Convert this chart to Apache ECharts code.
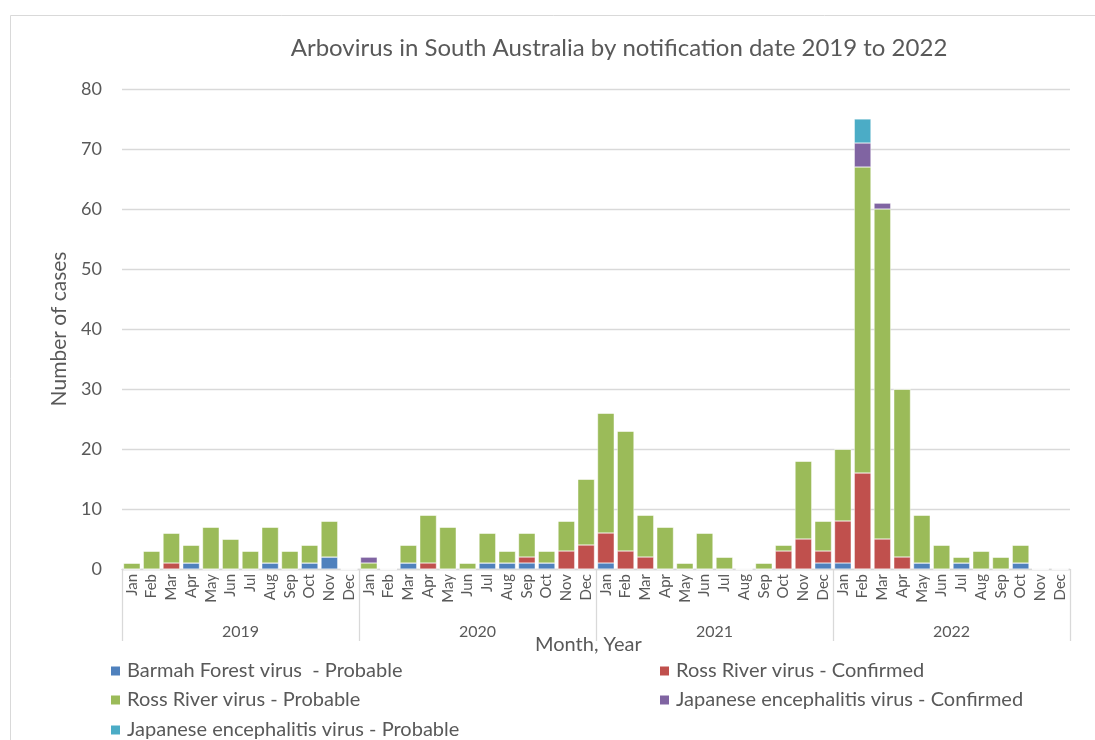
<!DOCTYPE html>
<html>
<head>
<meta charset="utf-8">
<script src="https://cdn.jsdelivr.net/npm/echarts@6/dist/echarts.min.js"></script>
<style>
  html, body { margin: 0; padding: 0; background: #fff; }
  #chart { width: 1095px; height: 740px; }
</style>
</head>
<body>
<div id="chart"></div>
<script>
var years = ["2019", "2020", "2021", "2022"];
var monthNames = ["Jan", "Feb", "Mar", "Apr", "May", "Jun", "Jul", "Aug", "Sep", "Oct", "Nov", "Dec"];
var months = [];
for (var y = 0; y < years.length; y++) {
    for (var m = 0; m < monthNames.length; m++) {
        months.push(monthNames[m]);
    }
}

// one value per month, Jan 2019 .. Dec 2022
var barmahProbable = [
    0, 0, 0, 1, 0, 0, 0, 1, 0, 1, 2, 0,
    0, 0, 1, 0, 0, 0, 1, 1, 1, 1, 0, 0,
    1, 0, 0, 0, 0, 0, 0, 0, 0, 0, 0, 1,
    1, 0, 0, 0, 1, 0, 1, 0, 0, 1, 0, 0
];
var rossConfirmed = [
    0, 0, 1, 0, 0, 0, 0, 0, 0, 0, 0, 0,
    0, 0, 0, 1, 0, 0, 0, 0, 1, 0, 3, 4,
    5, 3, 2, 0, 0, 0, 0, 0, 0, 3, 5, 2,
    7, 16, 5, 2, 0, 0, 0, 0, 0, 0, 0, 0
];
var rossProbable = [
    1, 3, 5, 3, 7, 5, 3, 6, 3, 3, 6, 0,
    1, 0, 3, 8, 7, 1, 5, 2, 4, 2, 5, 11,
    20, 20, 7, 7, 1, 6, 2, 0, 1, 1, 13, 5,
    12, 51, 55, 28, 8, 4, 1, 3, 2, 3, 0, 0
];
var jeConfirmed = [
    0, 0, 0, 0, 0, 0, 0, 0, 0, 0, 0, 0,
    1, 0, 0, 0, 0, 0, 0, 0, 0, 0, 0, 0,
    0, 0, 0, 0, 0, 0, 0, 0, 0, 0, 0, 0,
    0, 4, 1, 0, 0, 0, 0, 0, 0, 0, 0, 0
];
var jeProbable = [
    0, 0, 0, 0, 0, 0, 0, 0, 0, 0, 0, 0,
    0, 0, 0, 0, 0, 0, 0, 0, 0, 0, 0, 0,
    0, 0, 0, 0, 0, 0, 0, 0, 0, 0, 0, 0,
    0, 4, 0, 0, 0, 0, 0, 0, 0, 0, 0, 0
];

var seriesNames = [
    "Barmah Forest virus  - Probable",
    "Ross River virus - Confirmed",
    "Ross River virus - Probable",
    "Japanese encephalitis virus - Confirmed",
    "Japanese encephalitis virus - Probable"
];
var seriesData = [barmahProbable, rossConfirmed, rossProbable, jeConfirmed, jeProbable];
var colors = ["#4f81bd", "#c0504d", "#9bbb59", "#8064a2", "#4bacc6"];

var font = "Lato, 'Noto Sans', sans-serif";
var grey = "#595959";
var lineGrey = "#d9d9d9";

function barSeries(i) {
    return {
        name: seriesNames[i],
        type: "bar",
        stack: "cases",
        xAxisIndex: 0,
        barCategoryGap: "16%",
        itemStyle: { color: colors[i], borderColor: "#ffffff", borderWidth: 0.4 },
        emphasis: { disabled: true },
        data: seriesData[i]
    };
}

// one legend per entry so that the two-column layout of the original holds
function legendItem(i, left, top) {
    return {
        left: left,
        top: top,
        itemWidth: 11,
        itemHeight: 11,
        icon: "rect",
        selectedMode: false,
        textStyle: { fontFamily: font, fontSize: 20, color: grey, padding: [0, 0, 0, 1] },
        data: [seriesNames[i]]
    };
}

var chart = echarts.init(document.getElementById("chart"));
var option = {
    animation: false,
    color: colors,
    textStyle: { fontFamily: font },
    title: {
        text: "Arbovirus in South Australia by notification date 2019 to 2022",
        left: 614,
        top: 31,
        textAlign: "center",
        textStyle: { fontFamily: font, fontSize: 24, fontWeight: "normal", color: grey }
    },
    graphic: [
        {
            type: "rect",
            shape: { x: 10.5, y: 15.5, width: 1100, height: 800 },
            style: { fill: "none", stroke: lineGrey, lineWidth: 1 },
            silent: true
        },
        {
            type: "text",
            left: 535,
            top: 635,
            style: { text: "Month, Year", fontFamily: font, fontSize: 20, fill: grey },
            silent: true
        }
    ],
    legend: [
        legendItem(0, 104, 656),
        legendItem(2, 104, 685),
        legendItem(4, 104, 715),
        legendItem(1, 653, 656),
        legendItem(3, 653, 685)
    ],
    grid: { left: 122, right: 25, top: 89, bottom: 171 },
    xAxis: [
        {
            type: "category",
            data: months,
            position: "bottom",
            axisLine: { show: true, lineStyle: { color: lineGrey, width: 1.3 } },
            axisTick: { show: false },
            axisLabel: {
                interval: 0,
                rotate: 90,
                margin: 5,
                fontFamily: font,
                fontSize: 15,
                color: grey
            }
        },
        {
            type: "category",
            data: years,
            position: "bottom",
            offset: 0,
            axisLine: { show: false },
            axisTick: { show: true, interval: 0, length: 72, lineStyle: { color: lineGrey, width: 1.3 } },
            axisLabel: {
                interval: 0,
                margin: 55,
                fontFamily: font,
                fontSize: 16,
                color: grey
            }
        }
    ],
    yAxis: {
        type: "value",
        min: 0,
        max: 80,
        interval: 10,
        name: "Number of cases",
        nameLocation: "middle",
        nameGap: 52,
        nameTextStyle: { fontFamily: font, fontSize: 21, color: grey },
        axisLine: { show: false },
        axisTick: { show: false },
        axisLabel: { margin: 20, fontFamily: font, fontSize: 18, color: grey },
        splitLine: { lineStyle: { color: lineGrey, width: 1.3 } }
    },
    series: [barSeries(0), barSeries(1), barSeries(2), barSeries(3), barSeries(4)]
};
chart.setOption(option);
</script>
</body>
</html>
